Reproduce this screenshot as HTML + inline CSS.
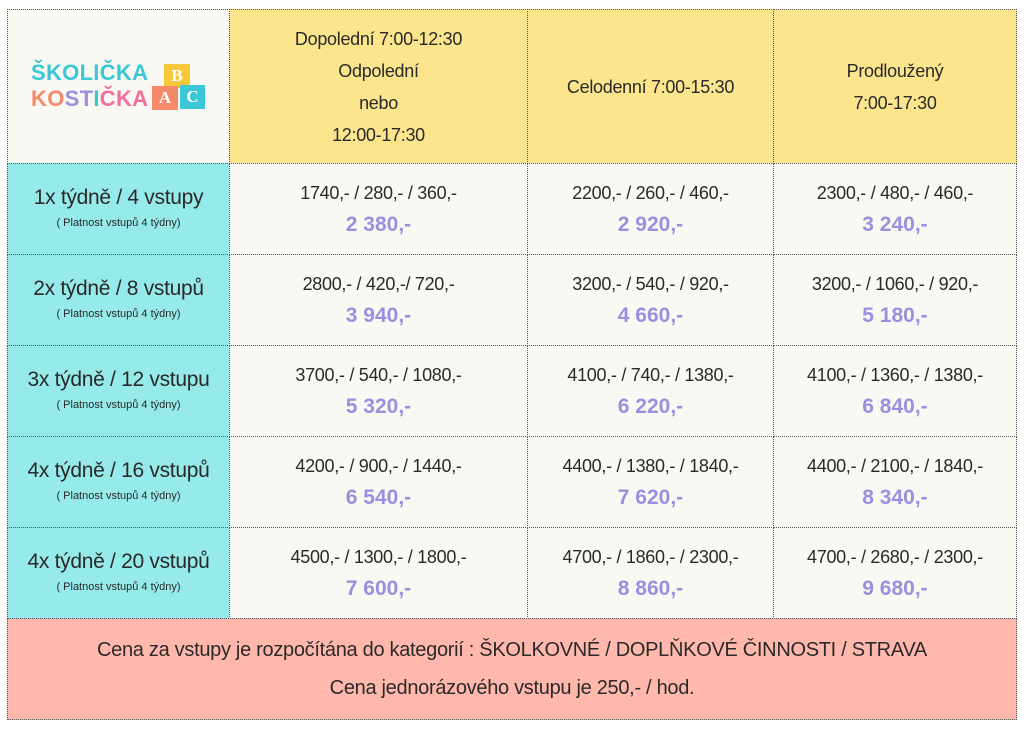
<!DOCTYPE html>
<html><head><meta charset="utf-8"><style>
body{margin:0;width:1024px;height:729px;background:#fff;position:relative;font-family:"Liberation Sans",sans-serif;color:#2a2a2a;overflow:hidden}
.c{position:absolute;box-sizing:border-box;border:1px dotted #555;display:flex;flex-direction:column;align-items:center;justify-content:center;text-align:center}
.cr{background:#f9f8f2}.y{background:#fde58e}.cy{background:#97eaea}.s{background:#ffb8ab}
.t{font-size:18px;line-height:32px;letter-spacing:-0.3px}
.p{font-size:18px;letter-spacing:-0.3px;line-height:32px}
.b{font-size:21px;font-weight:bold;color:#9d8fe0;line-height:32px}
.l{font-size:21px;line-height:28px;letter-spacing:-0.3px}
.sm{font-size:11px;line-height:22px}
.f{font-size:20px;line-height:38px;letter-spacing:-0.3px}
.k{position:absolute;color:#fff;font:bold 17px 'Liberation Serif',serif;text-align:center}
</style></head><body>
<div class="c cr" style="left:7px;top:9px;width:223px;height:155px"></div>
<div style="position:absolute;left:31px;top:60px;font-weight:bold;font-size:22px;line-height:26px;letter-spacing:0.3px;font-family:'Liberation Sans',sans-serif"><span style="color:#3cc7d6">ŠKOLIČKA</span><br><span style="color:#f58a6a">KO</span><span style="color:#9d8fe0">ST</span><span style="color:#3cc7d6">I</span><span style="color:#f26fa0">ČKA</span></div>
<div class="k" style="left:164px;top:64px;width:26px;height:24px;line-height:24px;background:#f7c83a">B</div>
<div class="k" style="left:152px;top:86px;width:26px;height:24px;line-height:24px;background:#f58a6a">A</div>
<div class="k" style="left:180px;top:85px;width:25px;height:24px;line-height:24px;background:#3cc7d6">C</div>
<div class="c y t" style="left:229px;top:9px;width:299px;height:155px">Dopolední 7:00-12:30<br>Odpolední<br>nebo<br>12:00-17:30</div>
<div class="c y t" style="left:527px;top:9px;width:247px;height:155px">Celodenní 7:00-15:30</div>
<div class="c y t" style="left:773px;top:9px;width:244px;height:155px">Prodloužený<br>7:00-17:30</div>

<div class="c cy" style="left:7px;top:163px;width:223px;height:92px"><div class="l">1x týdně / 4 vstupy</div><div class="sm">( Platnost vstupů 4 týdny)</div></div>
<div class="c cr" style="left:229px;top:163px;width:299px;height:92px"><div class="p">1740,- / 280,- / 360,-</div><div class="b">2 380,-</div></div>
<div class="c cr" style="left:527px;top:163px;width:247px;height:92px"><div class="p">2200,- / 260,- / 460,-</div><div class="b">2 920,-</div></div>
<div class="c cr" style="left:773px;top:163px;width:244px;height:92px"><div class="p">2300,- / 480,- / 460,-</div><div class="b">3 240,-</div></div>

<div class="c cy" style="left:7px;top:254px;width:223px;height:92px"><div class="l">2x týdně / 8 vstupů</div><div class="sm">( Platnost vstupů 4 týdny)</div></div>
<div class="c cr" style="left:229px;top:254px;width:299px;height:92px"><div class="p">2800,- / 420,-/ 720,-</div><div class="b">3 940,-</div></div>
<div class="c cr" style="left:527px;top:254px;width:247px;height:92px"><div class="p">3200,- / 540,- / 920,-</div><div class="b">4 660,-</div></div>
<div class="c cr" style="left:773px;top:254px;width:244px;height:92px"><div class="p">3200,- / 1060,- / 920,-</div><div class="b">5 180,-</div></div>

<div class="c cy" style="left:7px;top:345px;width:223px;height:92px"><div class="l">3x týdně / 12 vstupu</div><div class="sm">( Platnost vstupů 4 týdny)</div></div>
<div class="c cr" style="left:229px;top:345px;width:299px;height:92px"><div class="p">3700,- / 540,- / 1080,-</div><div class="b">5 320,-</div></div>
<div class="c cr" style="left:527px;top:345px;width:247px;height:92px"><div class="p">4100,- / 740,- / 1380,-</div><div class="b">6 220,-</div></div>
<div class="c cr" style="left:773px;top:345px;width:244px;height:92px"><div class="p">4100,- / 1360,- / 1380,-</div><div class="b">6 840,-</div></div>

<div class="c cy" style="left:7px;top:436px;width:223px;height:92px"><div class="l">4x týdně / 16 vstupů</div><div class="sm">( Platnost vstupů 4 týdny)</div></div>
<div class="c cr" style="left:229px;top:436px;width:299px;height:92px"><div class="p">4200,- / 900,- / 1440,-</div><div class="b">6 540,-</div></div>
<div class="c cr" style="left:527px;top:436px;width:247px;height:92px"><div class="p">4400,- / 1380,- / 1840,-</div><div class="b">7 620,-</div></div>
<div class="c cr" style="left:773px;top:436px;width:244px;height:92px"><div class="p">4400,- / 2100,- / 1840,-</div><div class="b">8 340,-</div></div>

<div class="c cy" style="left:7px;top:527px;width:223px;height:92px"><div class="l">4x týdně / 20 vstupů</div><div class="sm">( Platnost vstupů 4 týdny)</div></div>
<div class="c cr" style="left:229px;top:527px;width:299px;height:92px"><div class="p">4500,- / 1300,- / 1800,-</div><div class="b">7 600,-</div></div>
<div class="c cr" style="left:527px;top:527px;width:247px;height:92px"><div class="p">4700,- / 1860,- / 2300,-</div><div class="b">8 860,-</div></div>
<div class="c cr" style="left:773px;top:527px;width:244px;height:92px"><div class="p">4700,- / 2680,- / 2300,-</div><div class="b">9 680,-</div></div>

<div class="c s f" style="left:7px;top:618px;width:1010px;height:102px">Cena za vstupy je rozpočítána do kategorií : ŠKOLKOVNÉ / DOPLŇKOVÉ ČINNOSTI / STRAVA<br>Cena jednorázového vstupu je 250,- / hod.</div>
</body></html>
